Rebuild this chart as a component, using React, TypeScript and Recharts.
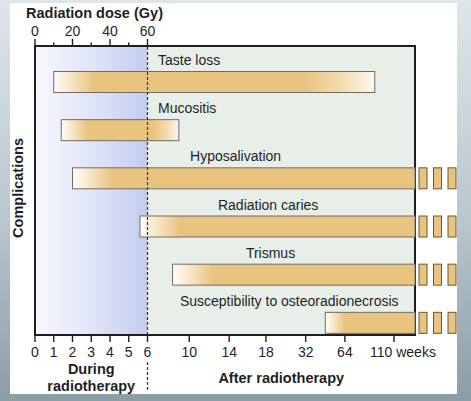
import React from 'react';
import { BarChart, Bar, XAxis, YAxis, ReferenceArea, ReferenceLine } from 'recharts';

// ---------- data ----------
const complications = [
  'Taste loss',
  'Mucositis',
  'Hyposalivation',
  'Radiation caries',
  'Trismus',
  'Susceptibility to osteoradionecrosis',
];
// onset (weeks from start of radiotherapy)
const onsetWeeks = [1.0, 1.4, 2.0, 5.6, 8.4, 48];
// end (weeks); null = persists indefinitely
const endWeeks: (number | null)[] = [92, 9, null, null, null, null];

const weekTickValues = [0, 1, 2, 3, 4, 5, 6, 10, 14, 18, 32, 64, 110];
const doseTickValues = [0, 10, 20, 30, 40, 50, 60];
const doseLabelValues = [0, 20, 40, 60];
const radiotherapyWeeks = 6;
const gyPerWeek = 10;

// ---------- axis layout (non-linear time axis) ----------
const weekTickPositions = [0, 1, 2, 3, 4, 5, 6, 8.23, 10.36, 12.32, 14.44, 16.53, 19.15];
const AXIS_END = 20.27;
const labelStartPositions = [6.56, 6.56, 8.27, 9.76, 11.25, 7.73];

const FONT = '"Liberation Sans", Arial, Helvetica, sans-serif';
const TAN = '#e9c47f';
const BAR_SHIFT = 11.5;
const INK = '#1f1f1f';

function toPos(week: number): number {
  const n = weekTickValues.length;
  for (let i = 1; i < n; i++) {
    if (week <= weekTickValues[i]) {
      const w0 = weekTickValues[i - 1], w1 = weekTickValues[i];
      const p0 = weekTickPositions[i - 1], p1 = weekTickPositions[i];
      return p0 + ((week - w0) / (w1 - w0)) * (p1 - p0);
    }
  }
  const w0 = weekTickValues[n - 2], w1 = weekTickValues[n - 1];
  const p0 = weekTickPositions[n - 2], p1 = weekTickPositions[n - 1];
  return p1 + ((week - w1) / (w1 - w0)) * (p1 - p0);
}

const rows = complications.map((name, i) => ({
  name,
  idx: i,
  range: [toPos(onsetWeeks[i]), endWeeks[i] == null ? AXIS_END : toPos(endWeeks[i] as number)],
  ongoing: endWeeks[i] == null,
  dose: null as number | null,
}));

function BarShape(props: any) {
  const { x, y, width, height, payload } = props;
  if (!payload || width == null) return null;
  const i = payload.idx;
  const [a, b] = payload.range;
  const k = width / (b - a);
  const by = y + BAR_SHIFT;
  const ramp = Math.min(40, 0.22 * width) / width;
  const fade = payload.ongoing ? 0 : 0.22;
  const id = `barGrad${i}`;
  const labelX = x + (labelStartPositions[i] - a) * k;
  return (
    <g>
      <defs>
        <linearGradient id={id} x1="0" y1="0" x2="1" y2="0">
          <stop offset={0} stopColor="#fffefa" />
          <stop offset={ramp * 0.45} stopColor="#f6e5c3" />
          <stop offset={ramp} stopColor={TAN} />
          {fade > 0 ? <stop offset={1 - fade} stopColor={TAN} /> : null}
          {fade > 0 ? <stop offset={1 - fade * 0.45} stopColor="#f3ddb1" /> : null}
          <stop offset={1} stopColor={fade > 0 ? '#fdf8ef' : TAN} />
        </linearGradient>
      </defs>
      <text x={labelX} y={by - 6.5} fontFamily={FONT} fontSize={14} fill={INK}>
        {payload.name}
      </text>
      <rect x={x} y={by} width={width} height={height} fill={`url(#${id})`} stroke="#6f6c66" strokeWidth={1} />
      {payload.ongoing
        ? [0, 1, 2].map((j) => (
            <rect
              key={j}
              x={x + width + 4 + j * 14.5}
              y={by}
              width={8}
              height={height}
              fill={TAN}
              stroke="#6e5736"
              strokeWidth={1}
            />
          ))
        : null}
    </g>
  );
}

function BottomTick(props: any) {
  const { x, y, payload } = props;
  const i = weekTickPositions.indexOf(payload.value);
  const label = weekTickValues[i];
  const isLast = i === weekTickValues.length - 1;
  return (
    <g>
      <line x1={x} y1={y} x2={x} y2={y + 7} stroke={INK} strokeWidth={1.4} />
      <text
        x={isLast ? x - 24 : x}
        y={y + 22}
        textAnchor={isLast ? 'start' : 'middle'}
        fontFamily={FONT}
        fontSize={14}
        fill={INK}
      >
        {isLast ? `${label} weeks` : String(label)}
      </text>
    </g>
  );
}

function TopTick(props: any) {
  const { x, y, payload } = props;
  const gy = Math.round(payload.value * gyPerWeek);
  const major = doseLabelValues.includes(gy);
  return (
    <g>
      <line x1={x} y1={y} x2={x} y2={y - (major ? 7 : 3.5)} stroke={INK} strokeWidth={1.4} />
      {major ? (
        <text x={x} y={y - 10} textAnchor="middle" fontFamily={FONT} fontSize={14} fill={INK}>
          {String(gy)}
        </text>
      ) : null}
    </g>
  );
}

function FrameLabel(props: any) {
  const vb = props.viewBox || {};
  const { x, y, height } = vb;
  if (x == null) return null;
  const cy = y + height / 2;
  return (
    <g>
      <text x={x - 9} y={y - 28.5} fontFamily={FONT} fontSize={14.5} fontWeight="bold" fill={INK}>
        Radiation dose (Gy)
      </text>
      <text
        x={x - 12}
        y={cy - 2.5}
        transform={`rotate(-90 ${x - 12} ${cy - 2.5})`}
        textAnchor="middle"
        fontFamily={FONT}
        fontSize={14.5}
        fontWeight="bold"
        fill={INK}
      >
        Complications
      </text>
    </g>
  );
}

function DuringLabel(props: any) {
  const vb = props.viewBox || {};
  const { x, y, width, height } = vb;
  if (x == null) return null;
  const cx = x + width / 2;
  const bottom = y + height;
  return (
    <g>
      <line
        x1={x + width}
        y1={bottom + 27}
        x2={x + width}
        y2={bottom + 57}
        stroke="#333"
        strokeWidth={1.2}
        strokeDasharray="3 2"
      />
      <text x={cx} y={bottom + 39} textAnchor="middle" fontFamily={FONT} fontSize={14.5} fontWeight="bold" fill={INK}>
        During
      </text>
      <text x={cx} y={bottom + 55.5} textAnchor="middle" fontFamily={FONT} fontSize={14.5} fontWeight="bold" fill={INK}>
        radiotherapy
      </text>
    </g>
  );
}

function AfterLabel(props: any) {
  const vb = props.viewBox || {};
  const { x, y, width, height } = vb;
  if (x == null) return null;
  return (
    <text
      x={x + width / 2}
      y={y + height + 48}
      textAnchor="middle"
      fontFamily={FONT}
      fontSize={14.5}
      fontWeight="bold"
      fill={INK}
    >
      After radiotherapy
    </text>
  );
}

export default function App() {
  const sixPos = toPos(radiotherapyWeeks);
  return (
    <div
      style={{
        position: 'absolute',
        left: 0,
        top: 0,
        width: 471,
        height: 401,
        overflow: 'hidden',
        background: 'linear-gradient(180deg, #dfe6ea 0%, #b9c6cd 55%, #8a9ea8 100%)',
        fontFamily: FONT,
      }}
    >
      <div style={{ position: 'absolute', left: 10, top: 3, width: 447, height: 391, background: '#ffffff' }} />
      <div style={{ position: 'absolute', left: 0, top: 0 }}>
        <BarChart
          width={471}
          height={401}
          data={rows}
          layout="vertical"
          margin={{ top: 16, right: 56, bottom: 36, left: 35 }}
          barCategoryGap={0}
        >
          <defs>
            <linearGradient id="duringBg" x1="0" y1="0" x2="1" y2="0">
              <stop offset="0" stopColor="#f8f9fe" />
              <stop offset="0.5" stopColor="#e0e5f7" />
              <stop offset="1" stopColor="#c2ccee" />
            </linearGradient>
          </defs>
          <XAxis
            xAxisId="bottom"
            type="number"
            orientation="bottom"
            domain={[0, AXIS_END]}
            ticks={weekTickPositions}
            interval={0}
            height={30}
            tickSize={0}
            tickMargin={0}
            tickLine={false}
            axisLine={false}
            tick={<BottomTick />}
          />
          <XAxis
            xAxisId="top"
            type="number"
            orientation="top"
            domain={[0, AXIS_END]}
            allowDataOverflow
            ticks={doseTickValues.map((g) => g / gyPerWeek)}
            interval={0}
            height={30}
            tickSize={0}
            tickMargin={0}
            tickLine={false}
            axisLine={false}
            tick={<TopTick />}
          />
          <YAxis type="category" dataKey="name" hide />
          <YAxis yAxisId="ghost" type="category" dataKey="name" hide />
          <ReferenceArea
            xAxisId="bottom"
            x1={0}
            x2={sixPos}
            fill="url(#duringBg)"
            fillOpacity={1}
            stroke="none"
            ifOverflow="visible"
            label={<DuringLabel />}
          />
          <ReferenceArea
            xAxisId="bottom"
            x1={sixPos}
            x2={AXIS_END}
            fill="#e7efe8"
            fillOpacity={1}
            stroke="none"
            ifOverflow="visible"
            label={<AfterLabel />}
          />
          <ReferenceLine
            xAxisId="bottom"
            x={sixPos}
            stroke="#333"
            strokeWidth={1.2}
            strokeDasharray="3 2"
            ifOverflow="visible"
          />
          <Bar
            xAxisId="bottom"
            dataKey="range"
            barSize={21}
            isAnimationActive={false}
            shape={<BarShape />}
          />
          <Bar
            xAxisId="top"
            yAxisId="ghost"
            dataKey="dose"
            isAnimationActive={false}
            fill="none"
            legendType="none"
          />
          <ReferenceArea
            xAxisId="bottom"
            x1={0}
            x2={AXIS_END}
            fill="none"
            fillOpacity={0}
            stroke={INK}
            strokeWidth={2}
            ifOverflow="visible"
            label={<FrameLabel />}
          />
        </BarChart>
      </div>
    </div>
  );
}
